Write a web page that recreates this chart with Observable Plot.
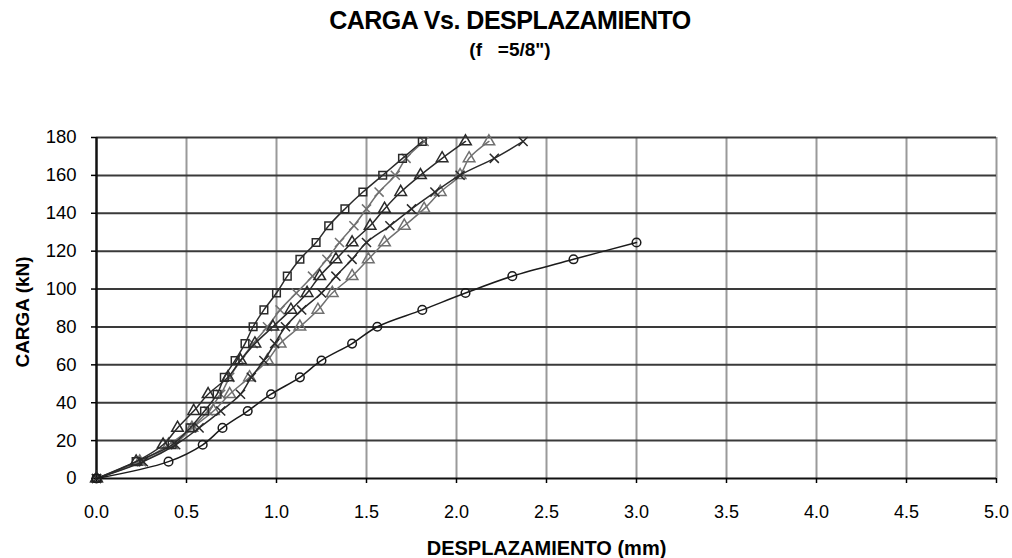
<!DOCTYPE html>
<html>
<head>
<meta charset="utf-8">
<script src="https://cdn.jsdelivr.net/npm/d3@7"></script>
<script src="https://cdn.jsdelivr.net/npm/@observablehq/plot@0.6"></script>
<style>
  html, body { margin: 0; padding: 0; background: #fff; }
  #wrap { width: 1012px; height: 558px; position: relative; font-family: "Liberation Sans", Arial, sans-serif; color: #000; }
  #head { height: 70px; position: relative; }
  #title { position: absolute; left: 0; width: 1020px; top: 6px; text-align: center; font-weight: bold; font-size: 25px; letter-spacing: -0.5px; }
  #subtitle { position: absolute; left: 0; width: 1020px; top: 39px; text-align: center; font-weight: bold; font-size: 19px; white-space: pre; }
</style>
</head>
<body>
<div id="wrap">
  <div id="head">
    <div id="title">CARGA Vs. DESPLAZAMIENTO</div>
    <div id="subtitle">(f   =5/8")</div>
  </div>
  <div id="chart"></div>
</div>
<script>
// Load steps (kN)
const loads = [0, 8.9, 17.8, 26.7, 35.6, 44.5, 53.4, 62.3, 71.2, 80.1, 89.0, 97.9, 106.8, 115.7, 124.6, 133.4, 142.3, 151.2, 160.1, 169.0, 177.9];

// Displacements (mm) for each specimen
const circleDisp  = [0, 0.40, 0.59, 0.70, 0.84, 0.97, 1.13, 1.25, 1.42, 1.56, 1.81, 2.05, 2.31, 2.65, 3.00];
const squareDisp  = [0, 0.22, 0.42, 0.52, 0.60, 0.67, 0.71, 0.77, 0.825, 0.87, 0.93, 1.00, 1.06, 1.13, 1.22, 1.29, 1.38, 1.48, 1.59, 1.70, 1.81];
const grayXDisp   = [0, 0.25, 0.43, 0.53, 0.62, 0.69, 0.74, 0.80, 0.87, 0.95, 1.02, 1.11, 1.20, 1.28, 1.35, 1.43, 1.50, 1.57, 1.66, 1.72, 1.82];
const darkTriDisp = [0, 0.22, 0.37, 0.45, 0.54, 0.62, 0.73, 0.80, 0.88, 0.98, 1.08, 1.17, 1.24, 1.33, 1.42, 1.52, 1.60, 1.69, 1.80, 1.92, 2.05];
const darkXDisp   = [0, 0.26, 0.44, 0.57, 0.69, 0.80, 0.86, 0.93, 0.99, 1.05, 1.14, 1.25, 1.33, 1.42, 1.50, 1.63, 1.75, 1.88, 2.02, 2.21, 2.37];
const grayTriDisp = [0, 0.24, 0.40, 0.53, 0.65, 0.74, 0.85, 0.95, 1.02, 1.13, 1.23, 1.31, 1.42, 1.51, 1.60, 1.71, 1.82, 1.91, 2.02, 2.07, 2.18];

const xTicks = [0, 0.5, 1, 1.5, 2, 2.5, 3, 3.5, 4, 4.5, 5];
const yTicks = [0, 20, 40, 60, 80, 100, 120, 140, 160, 180];
const xLabel = "DESPLAZAMIENTO (mm)";
const yLabel = "CARGA (kN)";

const seriesDefs = [
  {disp: grayTriDisp, symbol: "triangle", color: "#707070"},
  {disp: grayXDisp,   symbol: "times",    color: "#707070"},
  {disp: darkXDisp,   symbol: "times",    color: "#2a2a2a"},
  {disp: darkTriDisp, symbol: "triangle", color: "#2a2a2a"},
  {disp: squareDisp,  symbol: "square",   color: "#2a2a2a"},
  {disp: circleDisp,  symbol: "circle",   color: "#1a1a1a"}
];

const seriesMarks = [];
for (const s of seriesDefs) {
  const rows = s.disp.map((d, i) => ({d, load: loads[i]}));
  seriesMarks.push(Plot.line(rows, {x: "d", y: "load", stroke: s.color, strokeWidth: 1.5, curve: "catmull-rom"}));
  seriesMarks.push(Plot.dot(rows, {x: "d", y: "load", stroke: s.color, fill: "none", strokeWidth: 1.5, symbol: () => s.symbol, r: s.symbol === "times" ? 4.2 : 4.3}));
}

const chart = Plot.plot({
  width: 1012,
  height: 488,
  marginTop: 67,
  marginBottom: 80,
  marginLeft: 96,
  marginRight: 16,
  style: {fontFamily: "'Liberation Sans', Arial, sans-serif", fontSize: "18px", color: "#000", background: "#fff"},
  x: {domain: [0, 5]},
  y: {domain: [0, 180]},
  symbol: {type: "identity"},
  marks: [
    Plot.gridX(xTicks.filter(t => t > 0), {stroke: "#9a9a9a", strokeOpacity: 1, strokeWidth: 2}),
    Plot.gridY(yTicks.filter(t => t > 0), {stroke: "#3a3a3a", strokeOpacity: 1, strokeWidth: 2}),
    Plot.ruleY([0], {stroke: "#111", strokeWidth: 2}),
    Plot.ruleX([0], {stroke: "#111", strokeWidth: 2.5}),
    Plot.axisX(xTicks, {tickSize: 5, tickPadding: 22, fontSize: 18, tickFormat: d => d.toFixed(1), label: null, strokeWidth: 1.5}),
    Plot.axisY(yTicks, {tickSize: 5, tickPadding: 15, fontSize: 18.5, tickFormat: d => String(d), label: null, strokeWidth: 1.5}),
    ...seriesMarks,
    Plot.text([xLabel], {frameAnchor: "bottom", dy: 70, fontSize: 20, fontWeight: "bold", lineAnchor: "middle", textAnchor: "middle"}),
    Plot.text([yLabel], {frameAnchor: "left", dx: -74, dy: 4, rotate: -90, fontSize: 19, fontWeight: "bold", lineAnchor: "middle", textAnchor: "middle"})
  ]
});
document.getElementById("chart").appendChild(chart);
</script>
</body>
</html>
